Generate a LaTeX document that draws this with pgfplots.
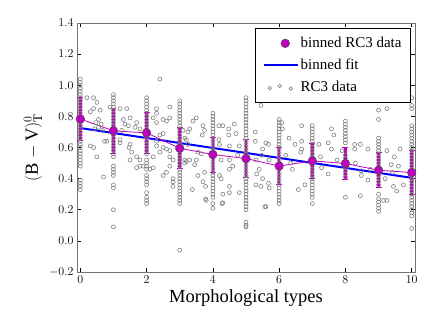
\documentclass[border=0pt]{standalone}
\usepackage{fontspec}
\setmainfont{Liberation Serif}
\usepackage{pgfplots}
\pgfplotsset{compat=1.18}
\definecolor{mplmag}{rgb}{0.75,0,0.75}
\definecolor{mplgray}{rgb}{0.5,0.5,0.5}
\begin{document}
\begin{tikzpicture}[x=1pt,y=1pt]
\useasboundingbox (0,0) rectangle (436,327);
\begin{axis}[
  at={(77pt,55pt)}, anchor=south west,
  scale only axis, width=338pt, height=249pt,
  xmin=-0.1, xmax=10.1, ymin=-0.2, ymax=1.4,
  xtick={0,2,4,6,8,10},
  ytick={-0.2,0,0.2,0.4,0.6,0.8,1.0,1.2,1.4},
  yticklabel style={/pgf/number format/.cd, fixed, fixed zerofill, precision=1},
  ticklabel style={font=\fontsize{13}{15}\selectfont},
  major tick length=4pt,
  tick style={black, line width=0.6pt},
  axis line style={black!55, line width=0.9pt},
  xlabel={Morphological types},
  ylabel={$(\mathrm{B}-\mathrm{V})^0_\mathrm{T}$},
  label style={font=\fontsize{18.5}{22}\selectfont},
  legend style={at={(0.988,0.98)}, anchor=north east,
    font=\fontsize{15}{17}\selectfont, draw=black, line width=0.8pt,
    inner xsep=7pt, inner ysep=7pt, row sep=6pt, cells={anchor=west}},
  scatter/.style={only marks, mark=o, mark size=2pt,
    mark options={draw=mplgray, line width=0.6pt}, forget plot},
]
% RC3 data, columns at integer types
\addplot[scatter] coordinates {
(0,1.04)(0,1.02)(0,1.00)(0,0.98)(0,0.96)(0,0.94)(0,0.92)(0,0.90)(0,0.88)(0,0.86)(0,0.84)
(0,0.82)(0,0.80)(0,0.78)(0,0.76)(0,0.74)(0,0.72)(0,0.70)(0,0.68)(0,0.66)(0,0.64)(0,0.62)
(0,0.60)(0,0.58)(0,0.56)(0,0.54)(0,0.52)(0,0.50)(0,0.48)(0,0.39)(0,0.37)(0,0.35)(0,0.33)
};
\addplot[scatter] coordinates {
(1,0.94)(1,0.92)(1,0.90)(1,0.88)(1,0.86)(1,0.84)(1,0.82)(1,0.80)(1,0.78)(1,0.76)(1,0.74)
(1,0.72)(1,0.70)(1,0.68)(1,0.66)(1,0.64)(1,0.62)(1,0.60)(1,0.58)(1,0.56)(1,0.54)
(1,0.48)(1,0.46)(1,0.44)(1,0.42)(1,0.36)(1,0.34)(1,0.20)(1,0.09)
};
\addplot[scatter] coordinates {
(2,0.92)(2,0.90)(2,0.88)(2,0.86)(2,0.84)(2,0.82)(2,0.80)(2,0.78)(2,0.76)(2,0.74)(2,0.72)
(2,0.70)(2,0.68)(2,0.66)(2,0.64)(2,0.62)(2,0.60)(2,0.58)(2,0.56)(2,0.52)(2,0.50)(2,0.48)
(2,0.46)(2,0.42)(2,0.40)(2,0.38)(2,0.36)(2,0.31)(2,0.28)(2,0.26)(2,0.24)
};
\addplot[scatter] coordinates {
(3,0.90)(3,0.88)(3,0.86)(3,0.84)(3,0.82)(3,0.80)(3,0.78)(3,0.76)(3,0.74)(3,0.72)(3,0.70)
(3,0.68)(3,0.66)(3,0.64)(3,0.62)(3,0.60)(3,0.58)(3,0.56)(3,0.54)(3,0.52)(3,0.50)(3,0.48)
(3,0.46)(3,0.44)(3,0.42)(3,0.40)(3,0.38)(3,0.36)(3,0.34)(3,0.32)(3,0.30)(3,0.28)(3,0.26)
(3,0.24)(3,-0.06)
};
\addplot[scatter] coordinates {
(4,0.82)(4,0.80)(4,0.78)(4,0.76)(4,0.74)(4,0.72)(4,0.70)(4,0.68)(4,0.66)(4,0.64)(4,0.62)
(4,0.60)(4,0.58)(4,0.56)(4,0.54)(4,0.52)(4,0.50)(4,0.48)(4,0.46)(4,0.44)(4,0.42)(4,0.40)
(4,0.38)(4,0.36)(4,0.34)(4,0.32)(4,0.30)(4,0.28)(4,0.24)(4,0.21)
};
\addplot[scatter] coordinates {
(5,0.92)(5,0.90)(5,0.88)(5,0.86)(5,0.84)(5,0.82)(5,0.80)(5,0.78)(5,0.76)(5,0.74)(5,0.72)
(5,0.70)(5,0.68)(5,0.66)(5,0.64)(5,0.62)(5,0.60)(5,0.58)(5,0.56)(5,0.54)(5,0.52)(5,0.50)
(5,0.48)(5,0.46)(5,0.44)(5,0.42)(5,0.40)(5,0.38)(5,0.36)(5,0.34)(5,0.32)(5,0.30)(5,0.28)
(5,0.26)(5,0.24)(5,0.22)(5,0.20)(5,0.12)(5,0.10)(5,0.09)
};
\addplot[scatter] coordinates {
(6,0.78)(6,0.76)(6,0.74)(6,0.72)(6,0.70)(6,0.68)(6,0.66)(6,0.64)(6,0.62)(6,0.60)(6,0.58)
(6,0.56)(6,0.54)(6,0.52)(6,0.50)(6,0.48)(6,0.46)(6,0.44)(6,0.42)(6,0.40)(6,0.38)(6,0.36)
(6,0.34)(6,0.32)(6,0.30)(6,0.28)(6,0.26)(6,0.24)
};
\addplot[scatter] coordinates {
(7,0.74)(7,0.72)(7,0.70)(7,0.68)(7,0.66)(7,0.64)(7,0.62)(7,0.60)(7,0.58)(7,0.56)(7,0.54)
(7,0.52)(7,0.50)(7,0.48)(7,0.46)(7,0.44)(7,0.42)(7,0.40)(7,0.38)(7,0.36)(7,0.34)(7,0.32)
(7,0.30)(7,0.28)(7,0.24)
};
\addplot[scatter] coordinates {
(8,0.77)(8,0.75)(8,0.73)(8,0.71)(8,0.69)(8,0.67)(8,0.65)(8,0.63)(8,0.55)(8,0.53)(8,0.51)
(8,0.49)(8,0.47)(8,0.45)(8,0.43)(8,0.41)(8,0.28)
};
\addplot[scatter] coordinates {
(9,0.84)(9,0.78)(9,0.66)(9,0.64)(9,0.62)(9,0.60)(9,0.58)(9,0.56)(9,0.54)(9,0.52)(9,0.50)
(9,0.48)(9,0.46)(9,0.44)(9,0.42)(9,0.40)(9,0.38)(9,0.36)(9,0.30)(9,0.27)(9,0.25)(9,0.23)
(9,0.21)(9,0.19)
};
\addplot[scatter] coordinates {
(10,0.92)(10,0.87)(10,0.85)(10,0.74)(10,0.72)(10,0.70)(10,0.68)(10,0.66)(10,0.64)(10,0.62)
(10,0.60)(10,0.58)(10,0.56)(10,0.54)(10,0.52)(10,0.50)(10,0.48)(10,0.46)(10,0.44)(10,0.42)
(10,0.40)(10,0.38)(10,0.36)(10,0.34)(10,0.32)(10,0.30)(10,0.28)(10,0.26)(10,0.24)(10,0.22)
(10,0.20)(10,0.18)(10,0.16)(10,0.08)
};
% RC3 data, off-integer types
\addplot[scatter] coordinates {
(0.2,0.92)(0.4,0.92)(0.5,0.89)(0.4,0.85)(0.3,0.83)(0.6,0.84)(0.55,0.78)(0.47,0.76)
(0.63,0.75)(0.55,0.73)(0.67,0.71)(0.43,0.72)(0.73,0.64)(0.8,0.64)(0.3,0.61)(0.4,0.60)
(0.5,0.54)(0.7,0.41)(0.9,0.86)
(1.2,0.85)(1.4,0.85)(1.3,0.78)(1.5,0.79)(1.35,0.75)(1.45,0.74)(1.65,0.73)(1.7,0.76)
(1.8,0.72)(1.25,0.71)(1.2,0.65)(1.2,0.63)(1.5,0.62)(1.47,0.60)(1.55,0.57)(1.5,0.52)
(1.7,0.54)(1.8,0.52)(1.7,0.47)(1.8,0.48)(1.9,0.48)
(2.1,0.46)(2.2,0.47)(2.4,1.04)(2.3,0.85)(2.3,0.82)(2.2,0.79)(2.3,0.76)(2.5,0.78)
(2.6,0.77)(2.7,0.86)(2.5,0.69)(2.4,0.68)(2.3,0.61)(2.3,0.64)(2.2,0.54)(2.4,0.57)
(2.5,0.60)(2.6,0.59)(2.7,0.58)(2.5,0.42)(2.6,0.44)(2.8,0.35)(2.8,0.38)(2.7,0.54)
(2.8,0.52)(2.7,0.79)(2.8,0.40)(2.7,0.48)
(3.1,0.71)(3.15,0.52)(3.2,0.51)(3.25,0.70)(3.15,0.66)(3.4,0.77)(3.5,0.79)(3.3,0.72)
(3.2,0.65)(3.25,0.62)(3.3,0.52)(3.5,0.52)(3.45,0.49)(3.15,0.50)(3.55,0.57)(3.65,0.56)
(3.7,0.74)(3.75,0.71)(3.68,0.68)(3.55,0.42)(3.75,0.44)(3.7,0.38)(3.78,0.35)(3.78,0.27)
(3.38,0.33)(3.8,0.26)
(4.18,0.74)(4.18,0.65)(4.2,0.62)(4.3,0.74)(4.25,0.52)(4.2,0.42)(4.25,0.40)(4.3,0.30)
(4.3,0.245)(4.48,0.72)(4.48,0.68)(4.5,0.61)(4.5,0.52)(4.5,0.46)(4.5,0.35)(4.5,0.31)
(4.65,0.75)(4.7,0.69)(4.6,0.48)(4.8,0.31)(4.75,0.55)(4.8,0.61)(4.28,0.24)
(5.28,0.70)(5.28,0.64)(5.3,0.52)(5.32,0.43)(5.3,0.36)(5.4,0.46)(5.45,0.35)(5.5,0.59)
(5.6,0.63)(5.68,0.62)(5.6,0.22)(5.68,0.37)(5.5,0.40)(5.7,0.34)(5.48,0.55)(5.7,0.52)
(5.45,0.87)(5.57,0.22)
(6.08,0.76)(6.1,0.72)(6.48,0.62)(6.68,0.74)(6.68,0.64)(6.68,0.59)(6.65,0.57)(6.58,0.33)
(6.78,0.36)(6.35,0.50)(6.2,0.55)(6.4,0.46)(6.3,0.66)
(7.25,0.54)(7.28,0.47)(7.48,0.63)(7.48,0.43)(7.58,0.72)(7.65,0.68)(7.58,0.59)(7.2,0.62)
(7.75,0.52)(7.9,0.58)
(8.28,0.62)(8.28,0.59)(8.45,0.62)(8.48,0.45)(8.48,0.42)(8.45,0.29)(8.68,0.59)(8.68,0.39)
(8.75,0.46)(8.3,0.50)
(9.25,0.85)(9.25,0.58)(9.15,0.26)(9.38,0.49)(9.42,0.44)(9.48,0.54)(9.45,0.35)(9.55,0.32)
(9.65,0.59)(9.75,0.36)(9.2,0.40)(9.6,0.48)(9.25,0.26)
};
% binned fit
\addplot[blue, line width=2pt, forget plot] coordinates {(0,0.725)(10,0.405)};
% binned RC3 data
\addplot[mplmag, line width=0.8pt, mark=*, mark size=4.3pt,
  mark options={fill=mplmag, draw=black!70, line width=0.5pt},
  forget plot,
  error bars/.cd, y dir=both, y explicit,
  error bar style={line width=2.5pt, mplmag},
  error mark options={rotate=90, mark size=3pt, line width=0.8pt, mplmag}]
coordinates {
(0,0.783) +- (0,0.140)
(1,0.707) +- (0,0.143)
(2,0.694) +- (0,0.134)
(3,0.595) +- (0,0.132)
(4,0.555) +- (0,0.112)
(5,0.529) +- (0,0.124)
(6,0.481) +- (0,0.118)
(7,0.514) +- (0,0.110)
(8,0.497) +- (0,0.102)
(9,0.454) +- (0,0.113)
(10,0.439) +- (0,0.142)
};
\addlegendimage{legend image code/.code={
  \node[circle, fill=mplmag, draw=black!70, line width=0.5pt, minimum size=8.6pt, inner sep=0pt] at (17pt,0pt) {};}}
\addlegendentry{binned RC3 data}
\addlegendimage{legend image code/.code={
  \draw[blue, line width=2pt] (0pt,0pt) -- (34pt,0pt);}}
\addlegendentry{binned fit}
\addlegendimage{legend image code/.code={
  \draw[mplgray, line width=0.6pt] (6pt,-0.8pt) circle (1.8pt) (16pt,1.5pt) circle (1.8pt) (27pt,-1.3pt) circle (1.8pt);}}
\addlegendentry{RC3 data}
\end{axis}
\end{tikzpicture}
\end{document}
